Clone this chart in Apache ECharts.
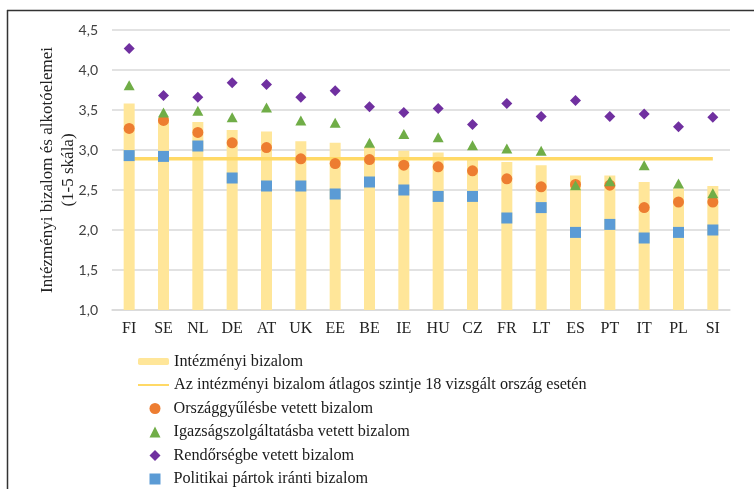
<!DOCTYPE html>
<html>
<head>
<meta charset="utf-8">
<script src="https://cdn.jsdelivr.net/npm/echarts@6/dist/echarts.min.js"></script>
<style>
  html, body { margin: 0; padding: 0; background: #fff; }
  #main { width: 754px; height: 489px; }
</style>
</head>
<body>
<div id="main"></div>
<script>
// országok
var countries = ['FI', 'SE', 'NL', 'DE', 'AT', 'UK', 'EE', 'BE', 'IE', 'HU', 'CZ', 'FR', 'LT', 'ES', 'PT', 'IT', 'PL', 'SI'];

// intézményi bizalom (oszlopok)
var intezmenyi = [3.58, 3.40, 3.35, 3.25, 3.23, 3.11, 3.09, 3.04, 2.99, 2.97, 2.91, 2.85, 2.81, 2.68, 2.68, 2.60, 2.52, 2.55];
// átlag 18 ország
var atlag = 2.89;
var orszaggyules = [3.27, 3.37, 3.22, 3.09, 3.03, 2.89, 2.83, 2.88, 2.81, 2.79, 2.74, 2.64, 2.54, 2.57, 2.56, 2.28, 2.35, 2.35];
var igazsag = [3.81, 3.47, 3.49, 3.41, 3.53, 3.37, 3.34, 3.09, 3.20, 3.16, 3.06, 3.02, 2.99, 2.56, 2.61, 2.81, 2.58, 2.46];
var rendorseg = [4.27, 3.68, 3.66, 3.84, 3.82, 3.66, 3.74, 3.54, 3.47, 3.52, 3.32, 3.58, 3.42, 3.62, 3.42, 3.45, 3.29, 3.41];
var partok = [2.93, 2.92, 3.05, 2.65, 2.55, 2.55, 2.45, 2.60, 2.50, 2.42, 2.42, 2.15, 2.28, 1.97, 2.07, 1.90, 1.97, 2.00];

var serif = '"Liberation Serif", "DejaVu Serif", serif';

var chart = echarts.init(document.getElementById('main'));

var option = {
  animation: false,
  grid: { left: 112, right: 24, top: 30, bottom: 179, containLabel: false },
  graphic: [
    { type: 'line', shape: { x1: 7, y1: 10.5, x2: 754, y2: 10.5 }, style: { stroke: '#333', lineWidth: 1.5 } },
    { type: 'line', shape: { x1: 7.5, y1: 10, x2: 7.5, y2: 489 }, style: { stroke: '#333', lineWidth: 1.5 } }
  ],
  legend: [
    {
      orient: 'vertical', left: 137, top: 353.5, padding: 0, itemGap: 7.5,
      itemWidth: 31, itemHeight: 7,
      textStyle: { fontFamily: serif, fontSize: 16.2, color: '#1a1a1a' },
      data: [
        'Intézményi bizalom',
        { name: 'Az intézményi bizalom átlagos szintje 18 vizsgált ország esetén', itemStyle: { opacity: 0 } }
      ]
    },
    {
      orient: 'vertical', left: 149.5, top: 400.5, height: 120, padding: 0, itemGap: 7.5,
      itemWidth: 11, itemHeight: 11,
      textStyle: { fontFamily: serif, fontSize: 16.2, color: '#1a1a1a', padding: [0, 0, 0, 8] },
      data: ['Országgyűlésbe vetett bizalom', 'Igazságszolgáltatásba vetett bizalom', 'Rendőrségbe vetett bizalom', 'Politikai pártok iránti bizalom']
    }
  ],
  xAxis: {
    type: 'category',
    data: countries,
    axisTick: { show: false },
    axisLine: { lineStyle: { color: '#d9d9d9', width: 1.5 } },
    axisLabel: { fontFamily: serif, fontSize: 16, color: '#222', margin: 11 }
  },
  yAxis: {
    type: 'value',
    min: 1, max: 4.5, interval: 0.5,
    name: 'Intézményi bizalom és alkotóelemei\n(1-5 skála)',
    nameLocation: 'middle',
    nameRotate: 90,
    nameGap: 33,
    nameMoveOverlap: false,
    nameTextStyle: { fontFamily: serif, fontSize: 17, color: '#222', lineHeight: 21 },
    axisLine: { show: false },
    axisTick: { show: false },
    splitLine: { lineStyle: { color: '#d9d9d9', width: 1.5 } },
    axisLabel: {
      fontFamily: 'Lato, "Open Sans", sans-serif', fontSize: 14, color: '#404040', margin: 14,
      formatter: function (v) { return v.toFixed(1).replace('.', ','); }
    }
  },
  series: [
    {
      name: 'Intézményi bizalom', type: 'bar', data: intezmenyi,
      barWidth: 11, itemStyle: { color: '#ffe699' }, z: 1
    },
    {
      name: 'Az intézményi bizalom átlagos szintje 18 vizsgált ország esetén', type: 'line',
      data: countries.map(function () { return atlag; }),
      symbol: 'none', lineStyle: { color: '#ffd966', width: 3.5 }, itemStyle: { color: '#ffd966' }, z: 2
    },
    {
      name: 'Országgyűlésbe vetett bizalom', type: 'scatter', data: orszaggyules,
      symbol: 'circle', symbolSize: 11, itemStyle: { color: '#ed7d31', opacity: 1 }, z: 3
    },
    {
      name: 'Igazságszolgáltatásba vetett bizalom', type: 'scatter', data: igazsag,
      symbol: 'triangle', symbolSize: [11, 10], itemStyle: { color: '#70ad47', opacity: 1 }, z: 3
    },
    {
      name: 'Rendőrségbe vetett bizalom', type: 'scatter', data: rendorseg,
      symbol: 'diamond', symbolSize: 11, itemStyle: { color: '#7030a0', opacity: 1 }, z: 3
    },
    {
      name: 'Politikai pártok iránti bizalom', type: 'scatter', data: partok,
      symbol: 'rect', symbolSize: 11, itemStyle: { color: '#5b9bd5', opacity: 1 }, z: 3
    }
  ]
};

chart.setOption(option);
</script>
</body>
</html>
